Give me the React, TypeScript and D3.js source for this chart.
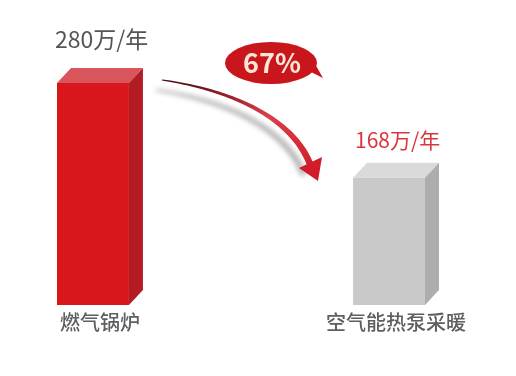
import React from "react";
import * as d3 from "d3";

// Annual heating cost comparison (万元/年)
const categories = ["燃气锅炉", "空气能热泵采暖"];
const values = [280, 168];
const valueLabels = ["280万/年", "168万/年"];
const savingLabel = "67%";

const W = 516;
const H = 376;
const FONT = "'Noto Sans CJK SC', 'Noto Sans', sans-serif";

const palette = [
  { front: "#d8151b", top: "#d9545c", side: "#b31b22", label: "#555555" },
  { front: "#c9c9c9", top: "#dadada", side: "#adadad", label: "#d9363c" },
];

export default function App() {
  const x = d3.scaleBand<string>().domain(categories).range([57, 425]).paddingInner(0.757).paddingOuter(0);
  const y = d3.scaleLinear().domain([0, 280]).range([320, 83]);
  const base = 305;
  const depthX = 14;
  const depthY = 15;
  const bw = x.bandwidth();

  // curved arrow as a tapered ribbon along a cubic bezier
  const p0: [number, number] = [162, 80];
  const p1: [number, number] = [232, 90];
  const p2: [number, number] = [292, 118];
  const p3: [number, number] = [310, 164];
  const bez = (t: number): [number, number] => {
    const u = 1 - t;
    return [
      u * u * u * p0[0] + 3 * u * u * t * p1[0] + 3 * u * t * t * p2[0] + t * t * t * p3[0],
      u * u * u * p0[1] + 3 * u * u * t * p1[1] + 3 * u * t * t * p2[1] + t * t * t * p3[1],
    ];
  };
  const ts = d3.range(0, 1.0001, 0.02);
  const left: [number, number][] = [];
  const right: [number, number][] = [];
  ts.forEach((t) => {
    const a = bez(Math.max(0, t - 0.01));
    const b = bez(Math.min(1, t + 0.01));
    const dx = b[0] - a[0];
    const dy = b[1] - a[1];
    const len = Math.hypot(dx, dy) || 1;
    const nx = -dy / len;
    const ny = dx / len;
    const w = 0.6 + 2.8 * t;
    const p = bez(t);
    left.push([p[0] + nx * w, p[1] + ny * w]);
    right.push([p[0] - nx * w, p[1] - ny * w]);
  });
  const ribbon = d3.line().curve(d3.curveLinearClosed)([...left, ...right.reverse()]) || "";
  const head = d3.line().curve(d3.curveLinearClosed)([
    [299, 168],
    [322, 157],
    [318, 181],
  ]) || "";

  // speech bubble with a small tail at the lower right
  const bubble = { cx: 271, cy: 63, rx: 46, ry: 21 };
  const tail = d3.line().curve(d3.curveLinearClosed)([
    [309, 71],
    [323, 78],
    [315, 64],
  ]) || "";

  return (
    <svg
      width={W}
      height={H}
      viewBox={`0 0 ${W} ${H}`}
      style={{ position: "absolute", left: 0, top: 0, background: "#fff" }}
    >
      <defs>
        <linearGradient id="arrowGrad" gradientUnits="userSpaceOnUse" x1={162} y1={80} x2={318} y2={175}>
          <stop offset="0" stopColor="#3d0a12" />
          <stop offset="0.3" stopColor="#8c1a26" />
          <stop offset="0.6" stopColor="#d8404e" />
          <stop offset="1" stopColor="#d21c2a" />
        </linearGradient>
        <filter id="shadowBlur" x="-20%" y="-20%" width="140%" height="140%">
          <feGaussianBlur stdDeviation="2.5" />
        </filter>
        <filter id="soft" x="-5%" y="-5%" width="110%" height="110%">
          <feGaussianBlur stdDeviation="0.4" />
        </filter>
      </defs>

      {categories.map((c, i) => {
        const x0 = x(c) as number;
        const x1 = x0 + bw;
        const yt = y(values[i]);
        const col = palette[i];
        const front = `M${x0},${yt}H${x1}V${base}H${x0}Z`;
        const top = `M${x0},${yt}L${x0 + depthX},${yt - depthY}H${x1 + depthX}L${x1},${yt}Z`;
        const side = `M${x1},${yt}L${x1 + depthX},${yt - depthY}V${base - depthY}L${x1},${base}Z`;
        const cx = x0 + (bw + depthX) / 2;
        return (
          <g key={c} filter="url(#soft)">
            <path d={front} fill={col.front} />
            <path d={top} fill={col.top} />
            <path d={side} fill={col.side} />
            <text
              x={i === 0 ? x0 - 2 : x0 + 2}
              y={i === 0 ? yt - 35 : yt - 30}
              fontFamily={FONT}
              fontSize={i === 0 ? 23 : 21}
              fill={col.label}
            >
              {valueLabels[i]}
            </text>
            <text
              x={cx}
              y={330}
              textAnchor="middle"
              fontFamily={FONT}
              fontSize={20}
              fontWeight={500}
              fill="#5e5e5e"
            >
              {c}
            </text>
          </g>
        );
      })}

      {/* arrow shadow */}
      <g transform="translate(-7,9)" filter="url(#shadowBlur)" opacity={0.7}>
        <path d={ribbon} fill="#9a9a9a" />
        <path d={ribbon} fill="#9a9a9a" transform="translate(1,2)" />
      </g>
      {/* arrow */}
      <g filter="url(#soft)">
        <path d={ribbon} fill="url(#arrowGrad)" />
        <path d={head} fill="#d21c2a" />
      </g>

      {/* saving bubble */}
      <g filter="url(#soft)">
        <ellipse cx={bubble.cx} cy={bubble.cy} rx={bubble.rx} ry={bubble.ry} fill="#c8141c" />
        <path d={tail} fill="#c8141c" />
        <text
          x={bubble.cx + 1}
          y={bubble.cy + 10}
          textAnchor="middle"
          fontFamily={FONT}
          fontSize={27}
          fontWeight={700}
          fill="#fbe6d6"
        >
          {savingLabel}
        </text>
      </g>
    </svg>
  );
}
